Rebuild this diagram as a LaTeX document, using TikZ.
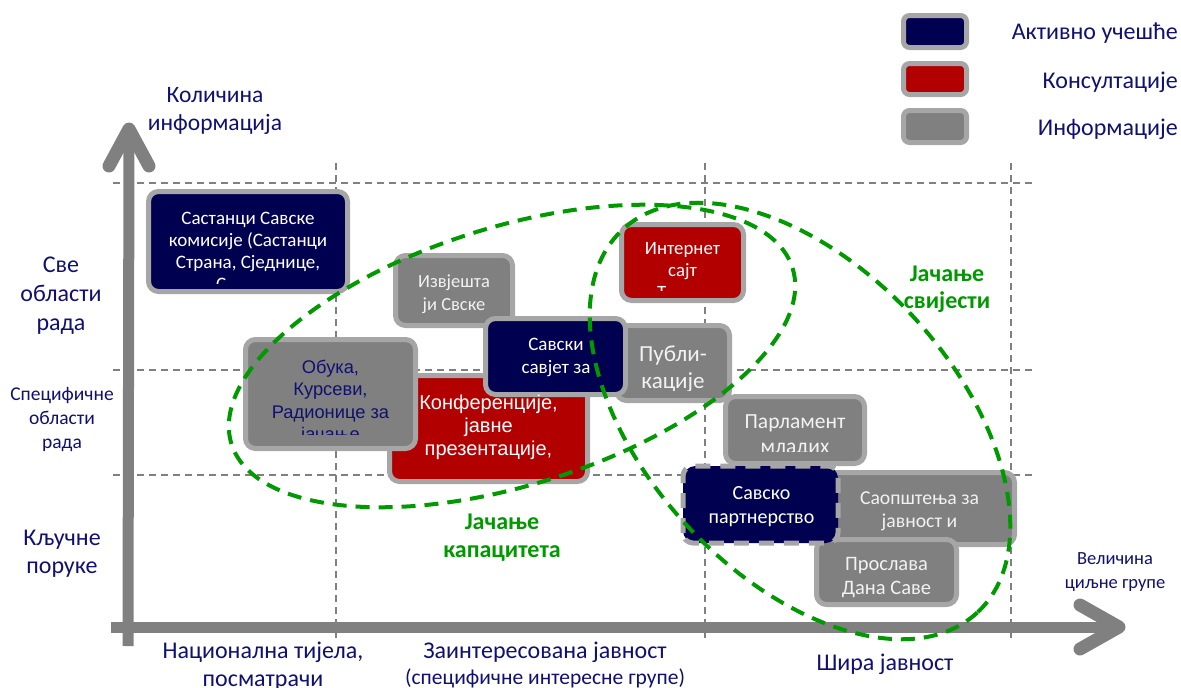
\documentclass[tikz,border=0pt]{standalone}
\usepackage{fontspec}
\setmainfont{Carlito}
\newfontfamily\arialf{Liberation Sans}
\definecolor{navybox}{RGB}{0,0,80}
\definecolor{redbox}{RGB}{178,0,0}
\definecolor{graybox}{RGB}{128,128,128}
\definecolor{bordergray}{RGB}{166,166,166}
\definecolor{txtblue}{RGB}{16,16,112}
\definecolor{grn}{RGB}{0,153,0}
\definecolor{axisgray}{RGB}{128,128,128}
\definecolor{lighttxt}{RGB}{242,242,242}
\newcommand{\fsz}[2]{\fontsize{#1}{#2}\selectfont}
\tikzset{
  box/.style={draw=bordergray, line width=5pt, rounded corners=10pt, inner sep=0pt},
  legbox/.style={draw=bordergray, line width=5pt, rounded corners=6pt, inner sep=0pt},
  gridl/.style={axisgray, line width=1.6pt, dash pattern=on 7pt off 5pt},
  ell/.style={grn, line width=4pt, dash pattern=on 14pt off 9pt},
  axisbar/.style={axisgray, line width=11pt},
  chev/.style={axisgray, line width=13pt, line cap=round, line join=round},
  lbl/.style={text=txtblue, align=center, inner sep=0pt, anchor=base},
  wtxt/.style={text=white, align=center, inner sep=0pt, anchor=base},
  ltxt/.style={text=lighttxt, align=center, inner sep=0pt, anchor=base},
  gtxt/.style={text=grn, align=center, inner sep=0pt, anchor=base, font=\bfseries\fsz{24}{27}},
}
\begin{document}
\begin{tikzpicture}[x=1pt,y=-1pt]
\useasboundingbox (0,0) rectangle (1181,688);
% grid
\foreach \yy in {183,370,475} \draw[gridl] (113,\yy) -- (1035,\yy);
\foreach \xx in {336,705,1011} \draw[gridl] (\xx,163) -- (\xx,641);
% axes
\coordinate (yb) at (128,646);
\coordinate (yt) at (129,129);
\coordinate (xb) at (111,627);
\coordinate (xt) at (1119,627);
\draw[axisbar] (yb) -- (yt);
\draw[axisbar] (xb) -- (xt);
\draw[chev] (109,166) -- (yt) -- (149,166);
\draw[chev] (1080,605) -- (xt) -- (1080,649);
% legend
\node[legbox, fill=navybox, minimum width=63, minimum height=32] (lg1) at (935,31.5) {};
\node[legbox, fill=redbox, minimum width=63, minimum height=31] (lg2) at (935,79) {};
\node[legbox, fill=graybox, minimum width=63, minimum height=32] (lg3) at (935,126.5) {};
\node[lbl, anchor=base east, font=\fsz{24}{28}] (lt1) at (1178,39) {Активно учешће};
\node[lbl, anchor=base east, font=\fsz{24}{28}] (lt2) at (1178,88) {Консултације};
\node[lbl, anchor=base east, font=\fsz{24}{28}] (lt3) at (1178,135) {Информације};
% boxes
\node[box, fill=navybox, minimum width=199, minimum height=100] (sast) at (248,241.5) {};
\node[box, fill=graybox, minimum width=117, minimum height=70] (izv) at (454,290.5) {};
\node[box, fill=redbox, minimum width=198, minimum height=106] (konf) at (488.5,428.5) {};
\node[box, fill=graybox, minimum width=170, minimum height=109] (obuka) at (330.5,394) {};
\node[box, fill=graybox, minimum width=113, minimum height=75] (publ) at (673,363) {};
\node[box, fill=navybox, minimum width=140, minimum height=76] (savski) at (555.5,356.5) {};
\node[box, fill=redbox, minimum width=122, minimum height=76] (inet) at (682.5,262.5) {};
\node[box, fill=graybox, minimum width=139, minimum height=67] (parl) at (795,430) {};
\node[box, fill=graybox, minimum width=193, minimum height=72] (saop) at (918,508.5) {};
\node[box, fill=graybox, minimum width=140, minimum height=65] (prosl) at (886.5,572) {};
\node[box, draw=navybox, fill=navybox, minimum width=150, minimum height=72] (savsko) at (760.5,504.5) {};
\draw[bordergray, line width=5pt, rounded corners=10pt, dash pattern=on 15pt off 10pt] (savsko.south west) rectangle (savsko.north east);
% box texts (base anchor = last line baseline)
\node[wtxt, font=\fsz{19}{22}] (sastT) at (248,268) {Састанци Савске\\комисије (Састанци\\Страна, Сједнице,};
\begin{scope}
\clip (150,190) rectangle (350,283);
\node[wtxt, anchor=base west, font=\fsz{19}{22}] (sastC) at (216,290) {С};
\end{scope}
\node[ltxt, font=\fsz{18.5}{23}] (izvT) at (454,310) {Извјешта\\ји Свске};
\node[wtxt, font=\arialf\fsz{20}{23}] (konfT) at (488.5,455) {Конференције,\\јавне\\презентације,};
\begin{scope}
\clip (245,340) rectangle (416,434);
\node[lbl, font=\arialf\fsz{18.3}{22.5}] (obukaT) at (330.5,440.5) {Обука,\\Курсеви,\\Радионице за\\јачање};
\end{scope}
\node[wtxt, font=\fsz{19}{23}] (savskiT) at (556,373) {Савски\\савјет за};
\node[wtxt, font=\fsz{18.8}{22}] (inetT) at (682.5,276) {Интернет\\сајт};
\begin{scope}
\clip (620,224) rectangle (745,290);
\node[wtxt, anchor=base west, font=\fsz{18.8}{22}] (inetC) at (657,298.5) {Т};
\end{scope}
\begin{scope}
\clip (600,325) rectangle (731,390);
\node[ltxt, font=\fsz{23}{27}] (publT) at (673,388) {Публи-\\кације};
\end{scope}
\begin{scope}
\clip (725,396) rectangle (865,451);
\node[ltxt, font=\fsz{21.5}{25}] (parlT) at (795,453) {Парламент\\младих};
\end{scope}
\node[ltxt, font=\fsz{19.7}{23}] (saopT) at (919.5,527) {Саопштења за\\јавност и};
\node[wtxt, font=\fsz{20}{24}] (savskoT) at (761.5,523) {Савско\\партнерство};
\node[ltxt, font=\fsz{20.5}{24}] (proslT) at (886.5,594) {Прослава\\Дана Саве};
% ellipses
\draw[ell, rotate around={17.4:(512,356)}] (512,356) ellipse [x radius=294, y radius=129];
\draw[ell, rotate around={-47.2:(800,421)}] (800,421) ellipse [x radius=261, y radius=154];
% axis labels
\node[lbl, font=\fsz{23.5}{28}] (ylab) at (215,130) {Количина\\информација};
\node[lbl, font=\fsz{24}{29}] (l1) at (61,330) {Све\\области\\рада};
\node[lbl, font=\fsz{19.5}{24}] (l2) at (62,448) {Специфичне\\области\\рада};
\node[lbl, font=\fsz{24}{28}] (l3) at (62,573) {Кључне\\поруке};
\node[lbl, font=\fsz{24}{28}] (b1) at (263,686) {Национална тијела,\\посматрачи};
\node[lbl, font=\fsz{24}{28}] (b2) at (545,658) {Заинтересована јавност};
\node[lbl, font=\fsz{21.5}{24}] (b2s) at (545,684) {(специфичне интересне групе)};
\node[lbl, font=\fsz{24}{28}] (b3) at (885,670) {Шира јавност};
\node[lbl, font=\fsz{18.5}{24}] (xlab) at (1115,588) {Величина\\циљне групе};
\node[gtxt] (g1) at (947,308) {Јачање\\свијести};
\node[gtxt, font=\bfseries\fsz{24}{28}] (g2) at (502,557) {Јачање\\капацитета};
\end{tikzpicture}
\end{document}
